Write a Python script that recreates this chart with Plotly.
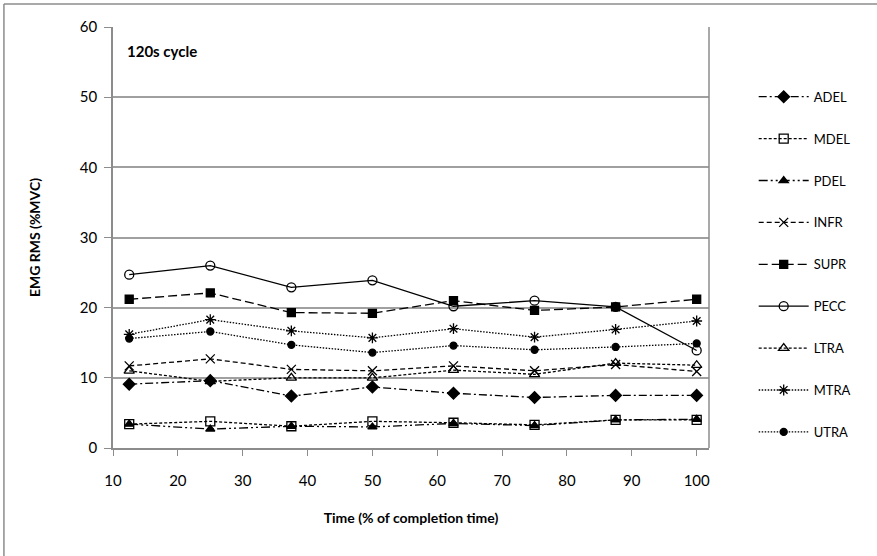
import plotly.graph_objects as go

time_pct = [12.5, 25, 37.5, 50, 62.5, 75, 87.5, 100]
series_names = ["ADEL", "MDEL", "PDEL", "INFR", "SUPR", "PECC", "LTRA", "MTRA", "UTRA"]
ADEL = [9.1, 9.6, 7.4, 8.7, 7.8, 7.2, 7.5, 7.5]
MDEL = [3.4, 3.8, 3.1, 3.8, 3.6, 3.3, 4.0, 4.0]
PDEL = [3.4, 2.7, 3.1, 3.0, 3.5, 3.2, 4.0, 4.1]
INFR = [11.7, 12.7, 11.2, 11.0, 11.7, 11.0, 11.9, 10.9]
SUPR = [21.2, 22.1, 19.3, 19.2, 21.0, 19.6, 20.1, 21.2]
PECC = [24.7, 26.0, 22.9, 23.9, 20.2, 21.0, 20.1, 13.9]
LTRA = [11.0, 9.5, 10.0, 10.0, 11.1, 10.5, 12.1, 11.8]
MTRA = [16.2, 18.3, 16.7, 15.7, 17.0, 15.8, 16.9, 18.1]
UTRA = [15.6, 16.6, 14.7, 13.6, 14.6, 14.0, 14.4, 14.9]
values = [ADEL, MDEL, PDEL, INFR, SUPR, PECC, LTRA, MTRA, UTRA]

x_ticks = [10, 20, 30, 40, 50, 60, 70, 80, 90, 100]
y_ticks = [0, 10, 20, 30, 40, 50, 60]

styles = {
    "ADEL": dict(dash="8px,3px,2px,3px", symbol="diamond", size=9),
    "MDEL": dict(dash="3px,2px", symbol="square-open", size=9),
    "PDEL": dict(dash="9px,3px,2px,3px,2px,3px", symbol="triangle-up", size=8),
    "INFR": dict(dash="5px,3px", symbol="x-thin-open", size=9),
    "SUPR": dict(dash="9px,4px", symbol="square", size=8),
    "PECC": dict(dash="solid", symbol="circle-open", size=9),
    "LTRA": dict(dash="3px,2px", symbol="triangle-up-open", size=9),
    "MTRA": dict(dash="1.5px,1.5px", symbol="asterisk-open", size=9),
    "UTRA": dict(dash="1.5px,1.5px", symbol="circle", size=7),
}

FONT = "Lato, Carlito, 'Open Sans', sans-serif"

fig = go.Figure()
for name, vals in zip(series_names, values):
    st = styles[name]
    fig.add_trace(go.Scatter(
        x=time_pct, y=vals, name=name, mode="lines+markers",
        legendgroup=name,
        line=dict(color="black", width=1.3, dash=st["dash"]),
        marker=dict(symbol=st["symbol"], size=st["size"], color="black",
                    line=dict(color="black", width=1.3)),
    ))

fig.add_annotation(x=0.02, y=0.97, xref="paper", yref="paper",
                   text="<b>120s cycle</b>", showarrow=False,
                   xanchor="left", yanchor="top",
                   font=dict(family=FONT, size=15, color="black"))

# outer chart border (top and left edges visible)
fig.add_shape(type="line", xref="paper", yref="paper",
              x0=-0.183, x1=1.3, y0=1.0546, y1=1.0546,
              line=dict(color="#8c8c8c", width=1.5))
fig.add_shape(type="line", xref="paper", yref="paper",
              x0=-0.183, x1=-0.183, y0=-0.3, y1=1.0546,
              line=dict(color="#8c8c8c", width=1.5))

fig.update_layout(
    width=877, height=556,
    margin=dict(l=113, r=168, t=27, b=108),
    paper_bgcolor="white", plot_bgcolor="white",
    font=dict(family=FONT, color="black"),
    showlegend=True,
    legend=dict(x=1.075, y=0.87, xanchor="left", yanchor="top",
                font=dict(family=FONT, size=13, color="black"),
                tracegroupgap=22, itemwidth=50,
                bgcolor="rgba(0,0,0,0)"),
    xaxis=dict(range=[10, 101.9], tickvals=x_ticks, ticktext=[str(v) for v in x_ticks],
               showgrid=False, zeroline=False,
               showline=True, linecolor="#8c8c8c", linewidth=1.5,
               ticks="outside", tickcolor="#8c8c8c", ticklen=6,
               ticklabelstandoff=12,
               tickfont=dict(family=FONT, size=15, color="black"),
               title=dict(text="<b>Time (% of completion time)</b>",
                          font=dict(family=FONT, size=14, color="black"), standoff=25)),
    yaxis=dict(range=[0, 60], tickvals=y_ticks,
               showgrid=True, gridcolor="#a0a0a0", gridwidth=1.5,
               zeroline=False,
               showline=True, linecolor="#8c8c8c", linewidth=1.5,
               ticks="outside", tickcolor="#8c8c8c", ticklen=7,
               ticklabelstandoff=4,
               tickfont=dict(family=FONT, size=15, color="black"),
               title=dict(text="<b>EMG RMS (%MVC)</b>",
                          font=dict(family=FONT, size=14, color="black"), standoff=36)),
)
# right border of plot area
fig.add_shape(type="line", xref="paper", yref="paper", x0=1, x1=1, y0=0, y1=1,
              line=dict(color="#8c8c8c", width=1.5))

fig.write_html("out.html")
